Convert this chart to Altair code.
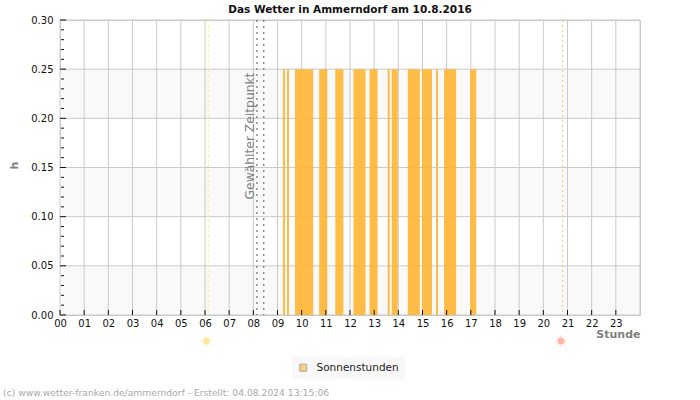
import altair as alt
import pandas as pd

FONT = "DejaVu Sans"

# Sunshine intervals of the day, in minutes since midnight
sun_start = [555, 565, 585, 645, 685, 730, 770, 815, 825, 865, 900, 935, 955, 1020]
sun_end = [560, 570, 630, 665, 705, 760, 790, 820, 840, 895, 925, 940, 985, 1035]
sun_hours = [0.25] * len(sun_start)

hours = list(range(24))
hour_minutes = [h * 60 for h in hours]
y_major = [0.0, 0.05, 0.10, 0.15, 0.20, 0.25, 0.30]
y_minor = [i / 100 for i in range(1, 30) if i % 5]
band_low = [0.0, 0.10, 0.20]
band_high = [0.05, 0.15, 0.25]

selected_marks = [489, 506]
sunrise_minute = [368]
sunset_minute = [1248]

x_scale = alt.Scale(domain=[0, 1440], nice=False, zero=False)
y_scale = alt.Scale(domain=[0, 0.3], nice=False)

y_axis = alt.Axis(
    values=y_major,
    format=".2f",
    title="h",
    titleFont=FONT,
    titleFontSize=11,
    titleFontWeight="bold",
    titleColor="#808080",
    titleX=-41,
    titleY=145,
    labelFont=FONT,
    labelFontSize=10,
    labelColor="#111111",
    labelPadding=7,
    ticks=False,
    domain=False,
    grid=False,
)
x_axis = alt.Axis(
    values=hour_minutes,
    labelExpr="(datum.value < 600 ? '0' : '') + (datum.value / 60)",
    title="Stunde",
    titleFont=FONT,
    titleFontSize=11,
    titleFontWeight="bold",
    titleColor="#808080",
    titleAlign="right",
    titleBaseline="middle",
    titleX=580,
    titleY=19,
    labelFont=FONT,
    labelFontSize=10,
    labelColor="#111111",
    labelPadding=3,
    labelFlush=False,
    labelOverlap=False,
    labelAngle=0,
    ticks=False,
    domain=False,
    grid=False,
)


def xpos(field):
    return alt.X(field, scale=x_scale, axis=x_axis)


def ypos(field):
    return alt.Y(field, scale=y_scale, axis=y_axis)


bands = alt.Chart(pd.DataFrame({"lo": band_low, "hi": band_high})).mark_rect(color="#f9f9f9").encode(
    y=ypos("lo:Q"),
    y2="hi:Q",
    x=alt.value(0),
    x2=alt.value(580),
)

grid_color = "#cacaca"
grid_h = alt.Chart(pd.DataFrame({"v": y_major})).mark_rule(color=grid_color, strokeWidth=1).encode(
    y=ypos("v:Q"),
)
grid_v = alt.Chart(pd.DataFrame({"m": hour_minutes + [1440]})).mark_rule(color=grid_color, strokeWidth=1).encode(
    x=xpos("m:Q"),
)

bars = alt.Chart(
    pd.DataFrame({"s": sun_start, "e": sun_end, "v": sun_hours, "name": ["Sonnenstunden"] * len(sun_start)})
).mark_rect(opacity=0.88, xOffset=-0.6, x2Offset=-0.6).encode(
    x=xpos("s:Q"),
    x2="e:Q",
    y=ypos("v:Q"),
    y2=alt.Y2(datum=0),
    fill=alt.Fill(
        "name:N",
        scale=alt.Scale(domain=["Sonnenstunden"], range=["#ffb32e"]),
        legend=alt.Legend(
            title=None,
            orient="none",
            legendX=232,
            legendY=336.5,
            fillColor="#f8f8f8",
            padding=6,
            symbolType="square",
            symbolSize=49,
            symbolStrokeColor="#777777",
            symbolStrokeWidth=1,
            symbolOpacity=0.6,
            labelFont=FONT,
            labelFontSize=10.5,
            labelColor="#222222",
            labelOffset=8,
        ),
    ),
)

# Inward tick marks along the axes
tick_y_major = alt.Chart(pd.DataFrame({"v": y_major})).mark_rule(color="#111111").encode(
    y=ypos("v:Q"), x=alt.value(0), x2=alt.value(6)
)
tick_y_minor = alt.Chart(pd.DataFrame({"v": y_minor})).mark_rule(color="#111111").encode(
    y=ypos("v:Q"), x=alt.value(1), x2=alt.value(4)
)
tick_x = alt.Chart(pd.DataFrame({"m": hour_minutes})).mark_rule(color="#111111").encode(
    x=xpos("m:Q"), y=alt.value(290), y2=alt.value(295)
)

# Marked moment of the day and the sun events
selected = alt.Chart(pd.DataFrame({"m": selected_marks})).mark_rule(
    color="#555555", strokeDash=[2, 4], strokeWidth=1
).encode(x=xpos("m:Q"))
sunrise = alt.Chart(pd.DataFrame({"m": sunrise_minute})).mark_rule(
    color="#ffe94a", strokeDash=[2, 3], strokeWidth=1
).encode(x=xpos("m:Q"))
sunset = alt.Chart(pd.DataFrame({"m": sunset_minute})).mark_rule(
    color="#ffc060", strokeDash=[2, 3], strokeWidth=1
).encode(x=xpos("m:Q"))

RAYS = "M0,-1L0,1M-1,0L1,0M-0.7,-0.7L0.7,0.7M-0.7,0.7L0.7,-0.7"


def sun_icon(minute, core, rays):
    frame = pd.DataFrame({"m": minute})
    spikes = alt.Chart(frame).mark_point(
        shape=RAYS, size=140, stroke=rays, strokeWidth=1, filled=False, opacity=1, xOffset=-1.7
    ).encode(x=xpos("m:Q"), y=alt.value(321))
    disc = alt.Chart(frame).mark_point(
        shape="circle", size=42, fill=core, strokeWidth=0, filled=True, opacity=1, xOffset=-1.7
    ).encode(x=xpos("m:Q"), y=alt.value(321))
    return spikes + disc


selected_label = alt.Chart(pd.DataFrame({"t": ["Gewählter Zeitpunkt"]})).mark_text(
    font=FONT, fontSize=12.3, color="#808080", angle=270, align="center", baseline="middle"
).encode(text="t:N", x=alt.value(190), y=alt.value(116))

credit = alt.Chart(
    pd.DataFrame({"t": ["(c) www.wetter-franken.de/ammerndorf - Erstellt: 04.08.2024 13:15:06"]})
).mark_text(
    font=FONT, fontSize=9.2, color="#aaaaaa", align="left", baseline="middle"
).encode(text="t:N", x=alt.value(-57), y=alt.value(373))

chart = alt.layer(
    bands,
    grid_h,
    grid_v,
    sunrise,
    sunset,
    selected,
    bars,
    tick_y_major,
    tick_y_minor,
    tick_x,
    sun_icon(sunrise_minute, "#ffe79a", "#ffeeb8"),
    sun_icon(sunset_minute, "#ffb3a0", "#ffcfc4"),
    selected_label,
    credit,
).properties(
    width=580,
    height=295,
    title=alt.TitleParams(
        "Das Wetter in Ammerndorf am 10.8.2016",
        font=FONT,
        fontSize=10.5,
        fontWeight="bold",
        color="#111111",
        anchor="middle",
        offset=0,
    ),
    autosize=alt.AutoSizeParams(type="none"),
    padding={"left": 60, "top": 20, "right": 60, "bottom": 85},
    background="white",
).configure_view(stroke="#cacaca", strokeWidth=1)

chart.save("out.html", embed_options={"renderer": "svg", "actions": False})
